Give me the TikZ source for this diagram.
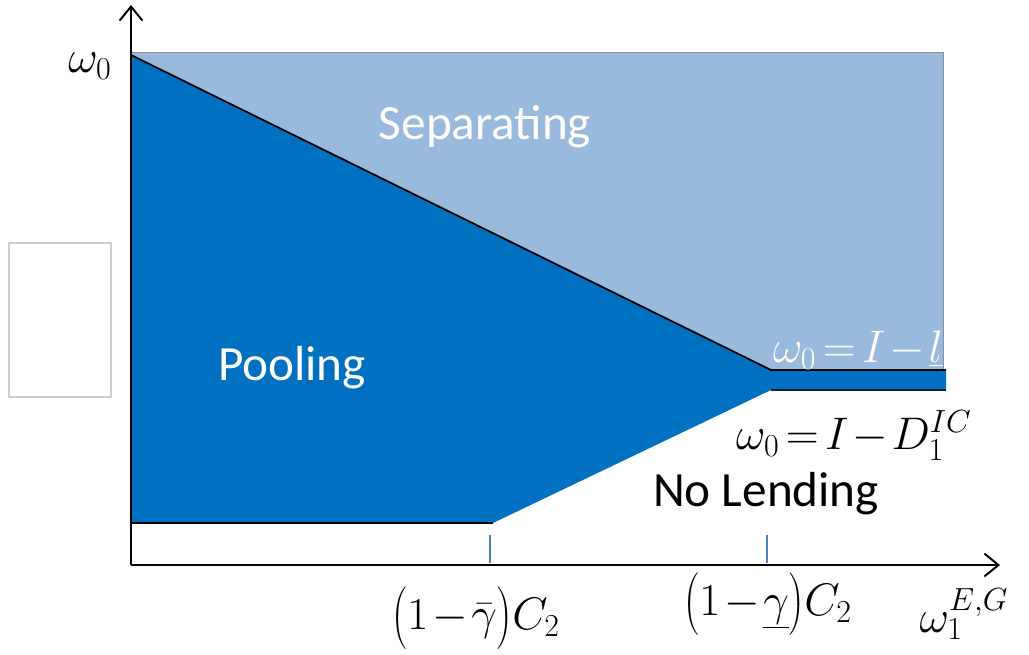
\documentclass[tikz,border=0pt]{standalone}
\usepackage{fix-cm}
\usepackage{fontspec}
\newfontfamily\labelfont{Carlito}
\newcommand\tightmath{\medmuskip=1.5mu\relax\thickmuskip=2.5mu\relax}
\newcommand\tallstrut{\rule[-0.4em]{0pt}{1.35em}}
\usetikzlibrary{arrows.meta}
\definecolor{poolblue}{RGB}{0,112,192}
\definecolor{sepblue}{RGB}{153,185,221}
\definecolor{tickblue}{RGB}{79,129,189}
\tikzset{
  region/.style={font=\labelfont\fontsize{28}{32}\selectfont},
  mathlbl/.style={font=\fontsize{26}{30}\selectfont\tightmath, inner sep=0pt},
  axis/.style={line width=1.1pt, -{Straight Barb[length=8pt,width=13pt]}},
  bound/.style={line width=1pt},
  tickmark/.style={tickblue, line width=1pt},
}
\begin{document}
\begin{tikzpicture}[x=0.02cm,y=-0.02cm]
\useasboundingbox (0,0) rectangle (1029,655);
% points of the regions
\coordinate (top) at (131,55);
\coordinate (kink) at (771,370);
\coordinate (bandend) at (946,370);
\coordinate (bandlow) at (771,390);
\coordinate (bandlowend) at (946,390);
\coordinate (floor) at (493,523);
\coordinate (floorstart) at (131,523);
% regions
\fill[sepblue, draw=gray!70!sepblue, line width=0.5pt] (131,52) rectangle (943,375);
\fill[poolblue] (top) -- (kink) -- (bandend) -- (bandlowend) -- (bandlow) -- (floor) -- (floorstart) -- cycle;
\draw[bound] (top) -- (kink) -- (bandend);
\draw[line width=0.6pt, black!70!poolblue] (bandlow) -- (bandlowend);
\draw[bound] (floorstart) -- (floor);
% axes
\coordinate (O) at (131,565);
\coordinate (ytip) at (131,5);
\coordinate (xtip) at (1000,565);
\draw[axis] (O) -- (ytip);
\draw[axis] (O) -- (xtip);
% ticks
\draw[tickmark] (490,535) -- (490,563);
\draw[tickmark] (767,535) -- (767,563);
% stray frame at the left
\draw[gray!40, line width=0.8pt] (9,243) rectangle (111,397);
% labels
\node[region, white] (sep) at (485,127) {Separating};
\node[region, white] (pool) at (292,368) {Pooling};
\node[region] (nolend) at (766,494) {No Lending};
\node[mathlbl] (w0) at (90,66) {$\omega_0$};
\node[mathlbl, white] (wl) at (858,350) {$\omega_0 = I - \underline{l}$};
\node[mathlbl] (wd) at (854,436) {$\omega_0 = I - D_1^{IC}$};
\node[mathlbl] (gbar) at (476,618) {${\left(\tallstrut 1-\bar{\gamma}\right)}C_2$};
\node[mathlbl] (gund) at (768,604) {${\left(\tallstrut 1-\underline{\gamma}\right)}C_2$};
\node[mathlbl] (w1) at (964,614) {$\omega_1^{E,G}$};
\end{tikzpicture}
\end{document}
